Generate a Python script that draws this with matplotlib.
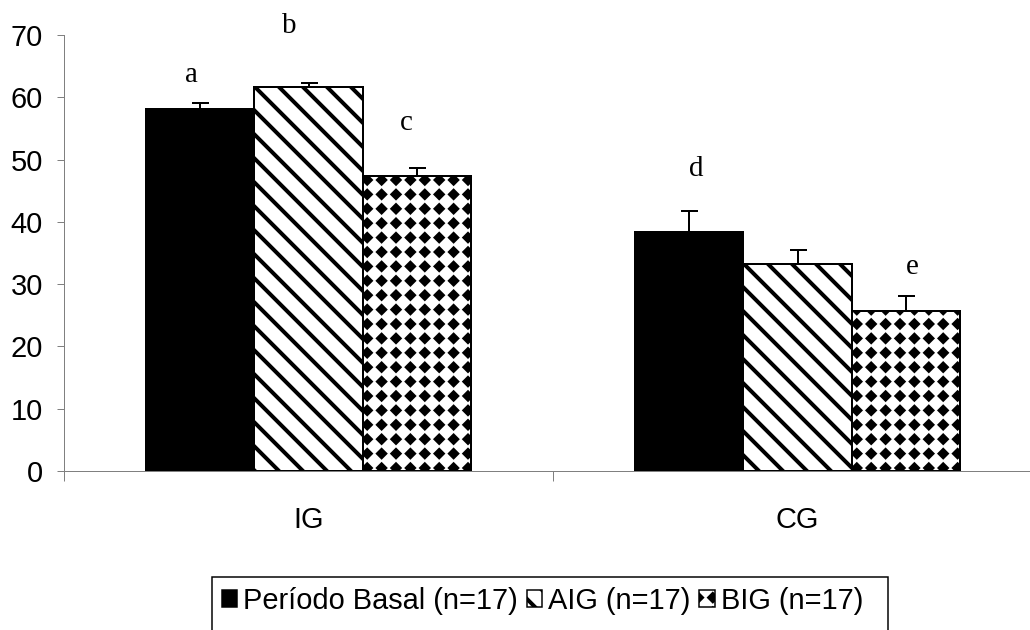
import numpy as np
import matplotlib
matplotlib.use('Agg')
import matplotlib.pyplot as plt
import matplotlib.hatch as mhatch
from matplotlib.path import Path
from matplotlib.patches import Rectangle

# datos
groups = ['IG', 'CG']
series = ['Período Basal (n=17)', 'AIG (n=17)', 'BIG (n=17)']
basal = [58.1, 38.3]
aig = [61.6, 33.3]
big = [47.4, 25.7]
basal_err = [1.0, 3.5]
aig_err = [0.7, 2.2]
big_err = [1.2, 2.4]
letters = ['a', 'b', 'c', 'd', 'e']
letter_x = [-0.240, -0.040, 0.201, 0.792, 1.234]
letter_y = [62.4, 70.3, 54.7, 47.4, 31.6]

plt.rcParams['font.family'] = 'Liberation Sans'
plt.rcParams['hatch.linewidth'] = 4.0


# patron de rombos en rejilla cuadrada (sustituye al hatch 'o')
class DiamondGrid(mhatch.HatchPatternBase):
    def __init__(self, hatch, density):
        self.num_cells = hatch.count('o') * 5
        self.num_vertices = self.num_cells ** 2 * 5

    def set_vertices_and_codes(self, vertices, codes):
        n = self.num_cells
        r = 0.047
        shape = np.array([[0, r], [r, 0], [0, -r], [-r, 0], [0, r]])
        centers = (np.arange(n) + 0.5) / n
        cells = np.array([(cx, cy) for cx in centers for cy in centers])
        vertices[:] = (cells[:, None, :] + shape[None, :, :]).reshape(-1, 2)
        codes[:] = np.tile([Path.MOVETO, Path.LINETO, Path.LINETO,
                            Path.LINETO, Path.CLOSEPOLY], n * n)


mhatch._hatch_types = [t for t in mhatch._hatch_types
                       if t is not mhatch.SmallCircles] + [DiamondGrid]

fig = plt.figure(figsize=(1030 / 72, 630 / 72), dpi=72)
ax = fig.add_axes([64 / 1030, 159 / 630, 978 / 1030, 436 / 630])

x = np.arange(len(groups))
w = 0.221
values = [basal, aig, big]
errors = [basal_err, aig_err, big_err]
faces = ['black', 'white', 'white']
hatches = [None, '\\', 'o']

for i in range(3):
    pos = x + (i - 1) * w
    ax.bar(pos, values[i], w, color=faces[i], edgecolor='black',
           linewidth=2, hatch=hatches[i], label=series[i], zorder=2)
    ax.errorbar(pos, values[i], yerr=[np.zeros(len(groups)), errors[i]],
                fmt='none', ecolor='black', elinewidth=2, capsize=8.5,
                capthick=2, zorder=3)

for t, lx, ly in zip(letters, letter_x, letter_y):
    ax.text(lx, ly, t, ha='center', va='baseline', fontsize=29,
            family='Liberation Serif')

ax.set_xlim(-0.5, 1.5)
ax.set_ylim(0, 70)
ax.set_yticks(range(0, 71, 10))
ax.set_xticks([-0.5, 0.5, 1.5])
ax.set_xticklabels([])
ax.set_xticks([0, 1], minor=True)
ax.set_xticklabels(groups, minor=True)
ax.tick_params(axis='x', which='major', length=10, width=1, color='#808080')
ax.tick_params(axis='x', which='minor', length=0, pad=35, labelsize=29)
ax.tick_params(axis='y', length=7, width=1, pad=14, labelsize=29,
               color='#808080')

for s in ['top', 'right']:
    ax.spines[s].set_visible(False)
for s in ['left', 'bottom']:
    ax.spines[s].set_color('#808080')
    ax.spines[s].set_linewidth(1)

leg = fig.legend(loc='upper left', bbox_to_anchor=(222 / 1030, 1 - 587 / 630),
                 ncol=3, frameon=False, fontsize=29, borderpad=0,
                 borderaxespad=0, handlelength=0.52, handleheight=0.52,
                 handletextpad=0.22, columnspacing=0.3)
for h in leg.legend_handles:
    h.set_linewidth(1.5)

# marco de la leyenda (se sale por abajo como en el original)
fig.add_artist(Rectangle((212 / 1030, -0.1), (888 - 212) / 1030,
                         0.1 + 1 - 577 / 630, transform=fig.transFigure,
                         fill=False, edgecolor='black', linewidth=1.5,
                         clip_on=False))

fig.savefig('out.png', dpi=72)
